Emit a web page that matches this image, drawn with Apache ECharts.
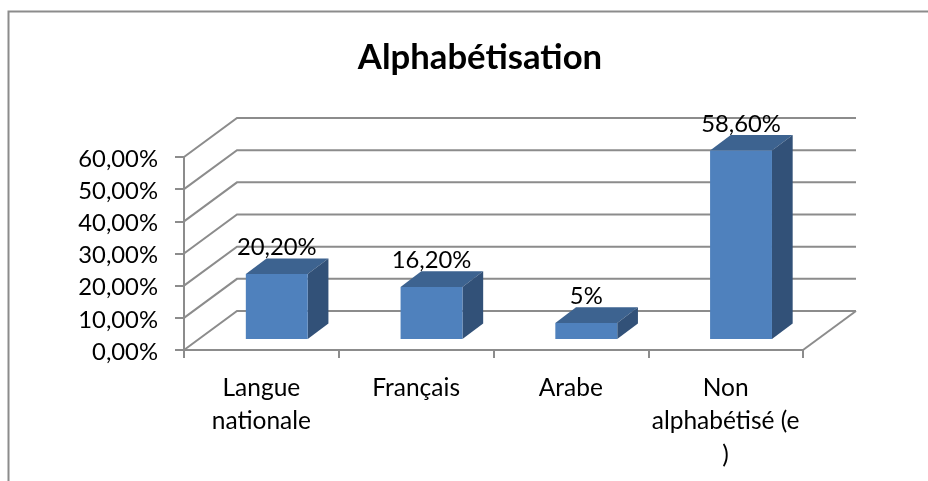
<!DOCTYPE html>
<html><head><meta charset="utf-8"><style>html,body{margin:0;padding:0;background:#fff}#c{width:928px;height:481px}</style>
<script src="https://cdn.jsdelivr.net/npm/echarts@6/dist/echarts.min.js"></script></head>
<body><div id="c"></div><script>
const categories = ['Langue\nnationale', 'Français', 'Arabe', 'Non\nalphabétisé (e\n)'];
const values = [20.2, 16.2, 5, 58.6];
const valueLabels = ['20,20%', '16,20%', '5%', '58,60%'];
const yTicks = [0, 10, 20, 30, 40, 50, 60];
const FONT = 'Lato';
const WALL = [53, -39], BAR_SHIFT = [15.4, -11], BAR_DEPTH = [20.7, -15.6];
const LINE = '#8c8c8c';
const chart = echarts.init(document.getElementById('c'), null, {renderer: 'canvas'});
chart.setOption({
  animation: false,
  backgroundColor: '#fff',
  title: {text: 'Alphabétisation', left: 475, top: 35, textAlign: 'center',
    textStyle: {fontFamily: FONT, fontWeight: 'bold', fontSize: 34.7, color: '#000'}},
  grid: {left: 184, right: 125, top: 157, bottom: 131},
  xAxis: {type: 'category', data: categories,
    axisLine: {lineStyle: {color: LINE, width: 2}},
    axisTick: {show: true, alignWithLabel: false, length: 8, lineStyle: {color: LINE, width: 2}},
    axisLabel: {fontFamily: FONT, fontSize: 24.5, color: '#000', lineHeight: 33.5, margin: 21, interval: 0}},
  yAxis: {type: 'value', min: 0, max: 60, interval: 10,
    axisLine: {show: true, lineStyle: {color: LINE, width: 2}},
    axisTick: {show: true, length: 9, lineStyle: {color: LINE, width: 2}},
    splitLine: {show: false},
    axisLabel: {fontFamily: FONT, fontSize: 23.8, color: '#000', margin: 26, verticalAlign: 'top', lineHeight: 4,
      formatter: v => v.toFixed(2).replace('.', ',') + '%'}},
  graphic: [{type: 'polyline', silent: true, shape: {points: [[8.5, 481], [8.5, 11.5], [928, 11.5]]},
    style: {stroke: '#8c8c8c', lineWidth: 2, fill: null}}],
  series: [
    {type: 'custom', silent: true, z: 1, data: yTicks.map(v => [0, v]),
      renderItem(params, api) {
        const r = params.coordSys, y = api.coord([0, api.value(1)])[1];
        const pts = [[r.x, y], [r.x + WALL[0], y + WALL[1]], [r.x + r.width + WALL[0], y + WALL[1]]];
        const children = [{type: 'polyline', shape: {points: pts}, style: {stroke: LINE, lineWidth: 2, fill: null}}];
        if (api.value(1) === 0) children.push({type: 'line',
          shape: {x1: r.x + r.width, y1: y, x2: r.x + r.width + WALL[0], y2: y + WALL[1]},
          style: {stroke: LINE, lineWidth: 2}});
        return {type: 'group', children};
      }},
    {type: 'custom', z: 3, data: values.map((v, i) => [i, v]),
      renderItem(params, api) {
        const i = api.value(0), v = api.value(1);
        const top = api.coord([i, v]), base = api.coord([i, 0]);
        const w = api.size([1, 0])[0] * 0.4;
        const x0 = top[0] - w / 2 + BAR_SHIFT[0], x1 = x0 + w;
        const y0 = top[1] + BAR_SHIFT[1], y1 = base[1] + BAR_SHIFT[1];
        const dx = BAR_DEPTH[0], dy = BAR_DEPTH[1];
        return {type: 'group', children: [
          {type: 'polygon', shape: {points: [[x0, y0], [x1, y0], [x1 + dx, y0 + dy], [x0 + dx, y0 + dy]]}, style: {fill: '#3d6390'}},
          {type: 'polygon', shape: {points: [[x1, y0], [x1 + dx, y0 + dy], [x1 + dx, y1 + dy], [x1, y1]]}, style: {fill: '#325178'}},
          {type: 'rect', shape: {x: x0, y: y0, width: w, height: y1 - y0}, style: {fill: '#4f81bd'}},
          {type: 'text', style: {text: valueLabels[i], x: (x0 + x1) / 2, y: y0 + dy - 11, align: 'center', verticalAlign: 'middle',
            fontFamily: FONT, fontSize: 23.8, fill: '#000'}}
        ]};
      }}
  ]
});
</script></body></html>
